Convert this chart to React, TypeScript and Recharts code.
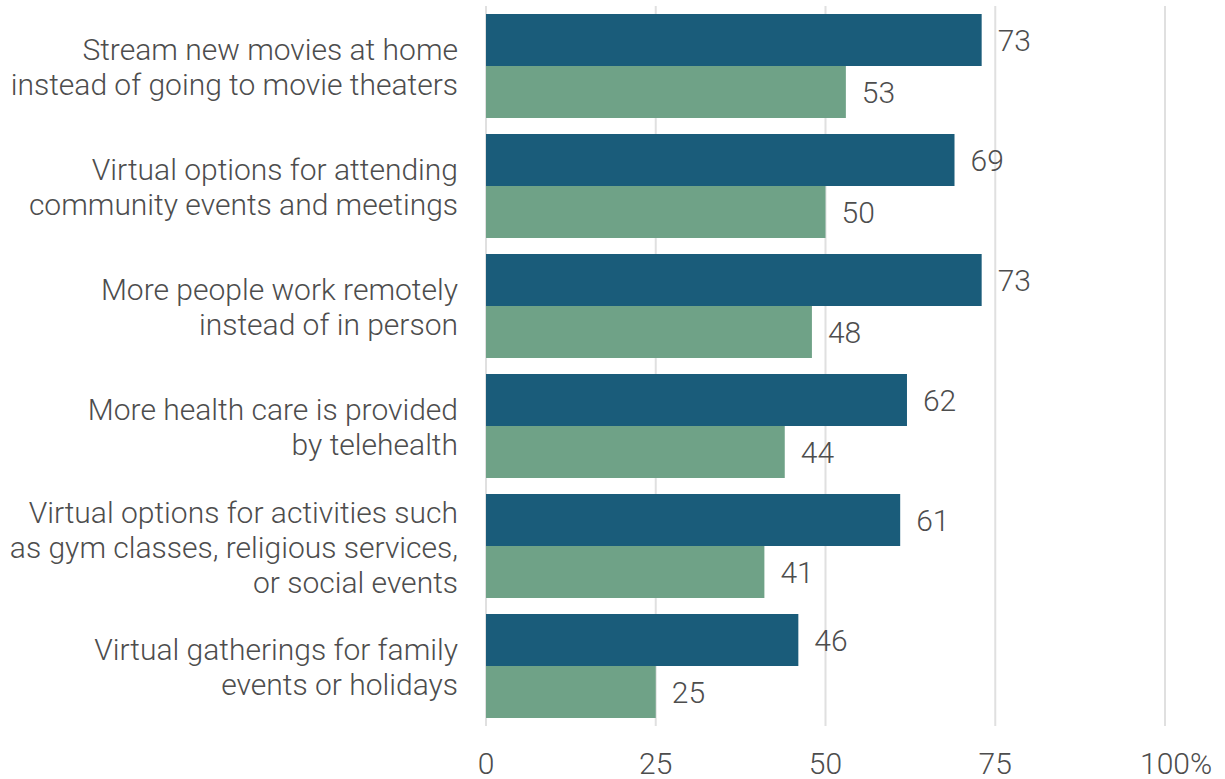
import React from 'react';
import { BarChart, Bar, XAxis, YAxis, CartesianGrid, LabelList } from 'recharts';

const categories = [
  ['Stream new movies at home', 'instead of going to movie theaters'],
  ['Virtual options for attending', 'community events and meetings'],
  ['More people work remotely', 'instead of in person'],
  ['More health care is provided', 'by telehealth'],
  ['Virtual options for activities such', 'as gym classes, religious services,', 'or social events'],
  ['Virtual gatherings for family', 'events or holidays'],
];

const seriesA = [73, 69, 73, 62, 61, 46];
const seriesB = [53, 50, 48, 44, 41, 25];

const xTicks = [0, 25, 50, 75, 100];

const data = categories.map((lines, i) => ({
  name: lines.join(' '),
  lines,
  a: seriesA[i],
  b: seriesB[i],
}));

const TEXT = '#4d4d4d';
const FONT = 'Roboto, sans-serif';
const FS = 30;
const FW = 300;

const CategoryTick = (props: any) => {
  const { x, y, payload } = props;
  const lines: string[] = data[payload.index]?.lines ?? [payload.value];
  const lh = 35;
  const start = y + 1 - ((lines.length - 1) * lh) / 2;
  return (
    <text x={x} y={start} textAnchor="end" fill={TEXT} fontSize={FS} fontWeight={FW} fontFamily={FONT}>
      {lines.map((l, i) => (
        <tspan key={i} x={x} y={start + i * lh} dy="0.35em">
          {l}
        </tspan>
      ))}
    </text>
  );
};

const ValueTick = (props: any) => {
  const { x, y, payload } = props;
  return (
    <g>
      <text x={x} y={y} dy="0.71em" textAnchor="middle" fill={TEXT} fontSize={FS} fontWeight={FW} fontFamily={FONT}>
        {payload.value}
      </text>
      {payload.value === 100 && (
        <text x={x + 25} y={y} dy="0.71em" textAnchor="start" fill={TEXT} fontSize={FS} fontWeight={FW} fontFamily={FONT}>
          %
        </text>
      )}
    </g>
  );
};

export default function App() {
  return (
    <div style={{ position: 'absolute', left: 0, top: 0, background: '#fff' }}>
      <BarChart
        width={1225}
        height={779}
        data={data}
        layout="vertical"
        margin={{ top: 6, right: 60, bottom: 0, left: 0 }}
        barCategoryGap={8}
        barGap={0}
      >
        <CartesianGrid horizontal={false} stroke="#e0e0e0" strokeWidth={2} />
        <XAxis
          type="number"
          domain={[0, 100]}
          ticks={xTicks}
          axisLine={false}
          tickLine={false}
          tickSize={0}
          tickMargin={27}
          height={53}
          tick={<ValueTick />}
          interval={0}
        />
        <YAxis
          type="category"
          dataKey="name"
          width={486}
          axisLine={false}
          tickLine={false}
          tickSize={0}
          tickMargin={28}
          tick={<CategoryTick />}
          interval={0}
        />
        <Bar dataKey="a" fill="#1a5c7a" isAnimationActive={false}>
          <LabelList dataKey="a" position="right" offset={16} fill={TEXT} fontSize={FS} fontWeight={FW} fontFamily={FONT} />
        </Bar>
        <Bar dataKey="b" fill="#6fa287" isAnimationActive={false}>
          <LabelList dataKey="b" position="right" offset={16} fill={TEXT} fontSize={FS} fontWeight={FW} fontFamily={FONT} />
        </Bar>
      </BarChart>
    </div>
  );
}
